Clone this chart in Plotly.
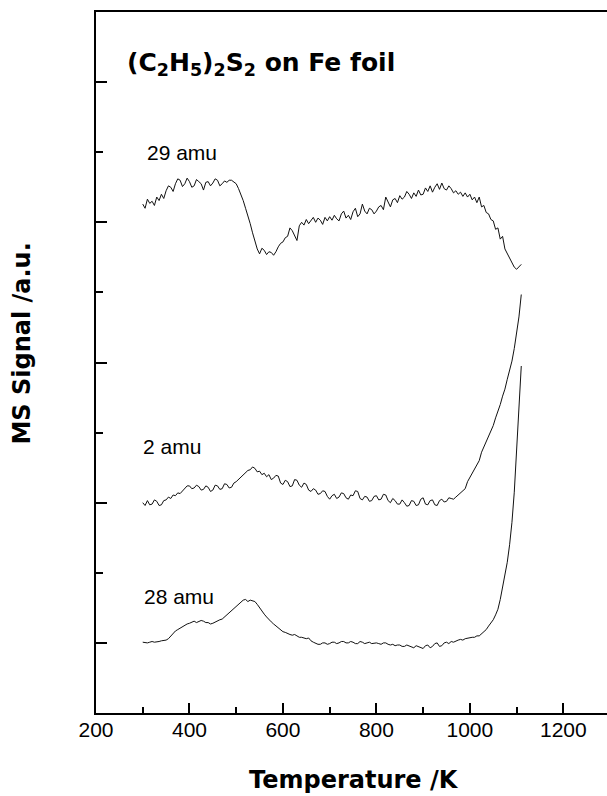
import plotly.graph_objects as go

# Temperature grid (K), 5 K steps
temperature = list(range(300, 1111, 5))

# 29 amu signal (a.u., offset trace)
amu29 = [7.26, 7.20, 7.33, 7.27, 7.30, 7.24, 7.36, 7.31, 7.40, 7.34,
         7.45, 7.52, 7.50, 7.44, 7.55, 7.62, 7.60, 7.51, 7.55, 7.63,
         7.58, 7.50, 7.52, 7.61, 7.58, 7.55, 7.46, 7.57, 7.58, 7.52,
         7.56, 7.62, 7.60, 7.52, 7.55, 7.59, 7.57, 7.60, 7.60, 7.58,
         7.55, 7.48, 7.40, 7.31, 7.20, 7.10, 6.98, 6.85, 6.72, 6.62,
         6.55, 6.63, 6.60, 6.54, 6.58, 6.57, 6.53, 6.58, 6.65, 6.70,
         6.72, 6.78, 6.80, 6.92, 6.88, 6.80, 6.74, 6.95, 7.00, 6.96,
         7.04, 6.98, 7.02, 7.07, 7.00, 7.06, 7.03, 6.97, 7.07, 7.02,
         7.08, 7.03, 7.10, 7.05, 7.02, 7.12, 7.16, 7.06, 7.10, 7.04,
         7.15, 7.20, 7.08, 7.12, 7.26, 7.16, 7.12, 7.20, 7.18, 7.12,
         7.16, 7.22, 7.24, 7.18, 7.36, 7.28, 7.22, 7.32, 7.34, 7.28,
         7.38, 7.33, 7.36, 7.44, 7.40, 7.34, 7.42, 7.37, 7.46, 7.39,
         7.40, 7.49, 7.44, 7.52, 7.43, 7.50, 7.55, 7.47, 7.56, 7.48,
         7.46, 7.52, 7.48, 7.42, 7.45, 7.40, 7.43, 7.37, 7.42, 7.36,
         7.40, 7.32, 7.36, 7.28, 7.36, 7.22, 7.24, 7.14, 7.12, 7.04,
         7.02, 6.90, 6.92, 6.76, 6.80, 6.62, 6.55, 6.48, 6.42, 6.36,
         6.33, 6.36, 6.40]

# 2 amu signal
amu2 = [3.00, 2.96, 3.03, 2.97, 2.98, 3.04, 3.02, 2.96, 2.97, 3.03,
        3.04, 3.08, 3.06, 3.11, 3.10, 3.14, 3.13, 3.17, 3.20, 3.24,
        3.24, 3.20, 3.21, 3.25, 3.23, 3.18, 3.19, 3.24, 3.22, 3.16,
        3.18, 3.25, 3.24, 3.19, 3.20, 3.27, 3.26, 3.21, 3.22, 3.28,
        3.30, 3.33, 3.36, 3.40, 3.42, 3.46, 3.47, 3.51, 3.49, 3.44,
        3.45, 3.40, 3.42, 3.37, 3.40, 3.33, 3.35, 3.39, 3.38, 3.28,
        3.26, 3.32, 3.30, 3.23, 3.24, 3.33, 3.32, 3.25, 3.22, 3.28,
        3.26, 3.18, 3.16, 3.20, 3.18, 3.12, 3.13, 3.17, 3.16, 3.09,
        3.05, 3.10, 3.12, 3.06, 3.08, 3.14, 3.13, 3.07, 3.05, 3.11,
        3.10, 3.17, 3.16, 3.06, 3.04, 3.09, 3.08, 3.02, 3.03, 3.09,
        3.10, 3.04, 3.05, 3.12, 3.11, 3.03, 3.00, 3.06, 3.03, 2.98,
        2.98, 3.04, 3.00, 2.95, 2.96, 3.03, 3.02, 2.96, 2.97, 3.05,
        3.07, 2.98, 2.97, 3.03, 3.04, 2.97, 2.96, 3.03, 3.05, 3.01,
        3.02, 3.07, 3.06, 3.05, 3.08, 3.11, 3.14, 3.16, 3.20, 3.30,
        3.36, 3.40, 3.48, 3.54, 3.60, 3.72, 3.80, 3.86, 3.96, 4.04,
        4.10, 4.21, 4.30, 4.40, 4.52, 4.62, 4.76, 4.88, 5.02, 5.20,
        5.40, 5.65, 5.97]

# 28 amu signal
amu28 = [1.01, 1.00, 1.00, 1.01, 1.02, 1.01, 1.01, 1.02, 1.03, 1.03,
         1.04, 1.06, 1.10, 1.14, 1.17, 1.19, 1.21, 1.24, 1.25, 1.27,
         1.28, 1.30, 1.31, 1.29, 1.30, 1.32, 1.31, 1.29, 1.29, 1.27,
         1.28, 1.30, 1.31, 1.33, 1.34, 1.37, 1.40, 1.42, 1.45, 1.48,
         1.51, 1.54, 1.57, 1.61, 1.62, 1.59, 1.61, 1.60, 1.59, 1.55,
         1.50, 1.45, 1.41, 1.37, 1.33, 1.30, 1.27, 1.24, 1.21, 1.19,
         1.16, 1.15, 1.13, 1.12, 1.11, 1.12, 1.10, 1.08, 1.08, 1.07,
         1.06, 1.07, 1.03, 1.01, 0.99, 0.98, 0.98, 1.00, 1.00, 0.98,
         0.99, 1.01, 1.01, 0.99, 1.00, 1.02, 1.02, 1.00, 1.00, 1.02,
         1.01, 0.99, 0.99, 1.02, 1.01, 0.99, 1.00, 1.01, 0.99, 1.00,
         1.00, 0.99, 0.98, 1.00, 1.00, 0.98, 0.97, 0.98, 0.96, 0.97,
         0.97, 0.95, 0.95, 0.97, 0.96, 0.94, 0.93, 0.96, 0.95, 0.93,
         0.92, 0.96, 0.97, 0.93, 0.95, 0.99, 1.00, 0.95, 0.96, 1.00,
         1.01, 0.99, 1.02, 1.01, 1.03, 1.04, 1.05, 1.04, 1.06, 1.07,
         1.07, 1.08, 1.08, 1.10, 1.10, 1.13, 1.16, 1.19, 1.24, 1.28,
         1.33, 1.40, 1.48, 1.62, 1.80, 1.96, 2.15, 2.40, 2.72, 3.15,
         3.70, 4.40, 4.95]

series_names = ["29 amu", "2 amu", "28 amu"]
series_values = [amu29, amu2, amu28]
label_pos = [(305, 7.99), (296, 3.80), (298, 1.66)]

x_ticks = [200, 400, 600, 800, 1000, 1200]
y_major = [1, 3, 5, 7, 9]

W, H = 607, 796
L, R, T, B = 95.5, 0, 12, 83
plot_w = W - L - R
plot_h = H - T - B
px_per_K = 0.4678
x_max = 200 + plot_w / px_per_K

fig = go.Figure()
for name, vals in zip(series_names, series_values):
    n = min(len(temperature), len(vals))
    fig.add_trace(go.Scatter(x=temperature[:n], y=vals[:n], mode="lines", name=name,
                             line=dict(color="#111111", width=1),
                             showlegend=False, hoverinfo="skip"))

reg = dict(family="Liberation Sans, Arial, sans-serif", size=21, color="#000")
bold = dict(family="DejaVu Sans, sans-serif", size=24, color="#000")

for name, (tx, ty) in zip(series_names, label_pos):
    fig.add_annotation(x=tx, y=ty, xref="x", yref="y", text=name,
                       showarrow=False, xanchor="left", yanchor="middle",
                       font=reg)

fig.add_annotation(x=261, y=9.26, xref="x", yref="y",
                   text="<b>(C<sub>2</sub>H<sub>5</sub>)<sub>2</sub>S<sub>2</sub> on Fe foil</b>",
                   showarrow=False, xanchor="left", yanchor="middle",
                   font=dict(family="DejaVu Sans, sans-serif", size=25, color="#000"))

fig.add_annotation(x=(354 - L) / plot_w, y=(H - B - 780) / plot_h,
                   xref="paper", yref="paper", text="<b>Temperature /K</b>",
                   showarrow=False, xanchor="center", yanchor="middle", font=bold)
fig.add_annotation(x=(21 - L) / plot_w, y=(H - B - 344) / plot_h,
                   xref="paper", yref="paper", text="<b>MS Signal /a.u.</b>",
                   showarrow=False, xanchor="center", yanchor="middle",
                   textangle=-90, font=bold)

fig.update_xaxes(range=[200, x_max], tickvals=x_ticks, ticks="inside",
                 ticklen=10, tickwidth=2, tickcolor="#000",
                 showline=True, linewidth=2, linecolor="#000", mirror=True,
                 showgrid=False, zeroline=False, tickfont=reg,
                 ticklabelstandoff=-3,
                 minor=dict(dtick=100, tick0=200, ticks="inside", ticklen=6,
                            tickwidth=2, tickcolor="#000", showgrid=False))
fig.update_yaxes(range=[0, 10], tickvals=y_major, ticks="inside",
                 ticklen=11, tickwidth=2, tickcolor="#000",
                 showticklabels=False,
                 showline=True, linewidth=2, linecolor="#000",
                 showgrid=False, zeroline=False,
                 minor=dict(dtick=1, tick0=0, ticks="inside", ticklen=7,
                            tickwidth=2, tickcolor="#000", showgrid=False))

fig.update_layout(width=W, height=H, margin=dict(l=L, r=R, t=T, b=B),
                  paper_bgcolor="white", plot_bgcolor="white",
                  hovermode=False)

fig.write_html("out.html", config={"displayModeBar": False},
               post_script="document.body.style.margin='0';document.body.style.overflow='hidden';")
